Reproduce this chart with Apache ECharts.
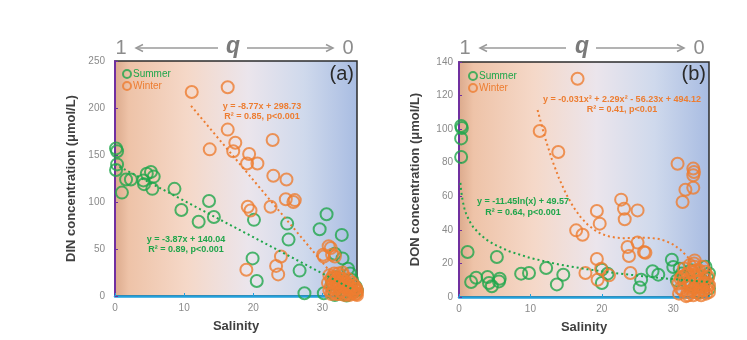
<!DOCTYPE html>
<html><head><meta charset="utf-8">
<script src="https://cdn.jsdelivr.net/npm/echarts@6/dist/echarts.min.js"></script>
<style>html,body{margin:0;padding:0;background:#fff}#c{width:747px;height:340px}</style>
</head><body><div id="c"></div>
<script>
// ---------- Data ----------
const xTicks = [0, 10, 20, 30];
const dinTicks = [0, 50, 100, 150, 200, 250];
const donTicks = [0, 20, 40, 60, 80, 100, 120, 140];

// Panel (a) DIN
const dinSummerSal = [0.15,0.3,0.3,0.15,1,1.6,2.3,4.1,4.2,4.6,5.2,5.6,5.4,8.6,9.6,12.1,13.6,14.3,20.1,19.9,20.5,24.9,25.1,26.7,27.4,29.6,30.6,32.8,31.8,32.9,33.7,34,34.3,30.2,31.8,32.9,34.5,34.8,35,33.5,31.4,32,32.6];
const dinSummerVal = [157,154,140,134,110,124,124,123,119,130,132,127,114,114,91.5,79,101,84,81,40,16,77,60,27,3,71,87,65,45,40,29,24,17,3,1,2,4,10,6,0.5,14,20,3];
const dinWinterSal = [11.1,16.3,13.7,16.3,17.4,17.1,19.4,19.1,20.6,22.8,22.9,24.8,24.7,25.8,26,19.2,19.6,22.5,24,23.3,23.6,19,30.2,31.2,31.8,30.9,30.1,31.4,31,31.3,31.6,31.2,31.8,32.2,32.5,32,32.8,33,33.2,32.6,33.5,33.8,34,34.2,34.5,34.8,33.4,31.5,32.3,33,34.6,35,33.9,32,31,30.8,
  31.4,31.9,32.4,32.9,33.4,33.9,34.4,34.9,31.6,32.1,32.6,33.1,33.6,34.1,34.6,35,33.2,32.4,31.7,32.9,33.7,34.3,31.3,34.9];
const dinWinterVal = [217,222,156,177,163,154,151,141,141,166,128,124,103,100,102,95,91,95,42,32,23,28,42,51,42,53,44,44,22,18,14,10,20,16,12,8,18,14,10,5,8,12,6,3,5,2,3,4,24,22,8,1,1,2,6,14,
  20,17,14,11,9,7,4,3,8,11,19,16,13,9,11,5,1,2,24,25,18,14,2,8];
const dinSummerFitX = [0, 34.5];
const dinSummerFitY = [140.04, 6.5];
const dinWinterFitX = [11, 34];
const dinWinterFitY = [202.3, 0.55];

// Panel (b) DON
const donSummerSal = [0.3,0.4,0.3,0.3,1.2,1.7,2.4,4.0,4.2,4.6,5.3,5.6,5.7,8.7,9.8,12.2,13.7,14.6,20,20,20.8,25.5,25.3,27.1,27.9,29.8,30.9,30.5,30.0,31.5,32,33,34,35,34.5,33.5,35,32.5,34.8,31.2];
const donSummerVal = [101.9,100.7,94.5,83.4,26.8,8.9,11.5,11.9,8.3,6.4,23.8,9.3,10.9,13.9,14.3,17.3,7.5,13.3,16.3,8.3,13.9,10.3,5.6,15.3,13.3,22.2,16.9,9.9,17.9,12,8,6,10,14,18,3,5,16,11,14];
const donWinterSal = [16.6,11.3,13.9,16.4,17.3,19.3,19.7,22.7,23.1,23.2,25,30.6,32.8,32.9,32.8,32.8,31.7,31.3,19.3,19.4,19.9,17.7,23.6,23.8,25,25.9,26.1,24,21,33,31,31.5,32,32,32.5,32.8,33,33,33.2,33.5,33.8,34,34.2,34.5,34.8,35,31.2,30.8,32.3,33.6,34.4,31.8,32.6,33.9,
  30.7,31.3,31.7,32.2,32.7,33.1,33.4,33.7,34.1,34.6,34.9,35,31.5,32.9,33.3,34.3,34.7,32.4,33.8,31,32.1,33.6];
const donWinterVal = [130,98.9,86.4,39.7,37.1,51.2,43.7,58,52.6,46.3,51.6,79.4,76.5,74.5,72.5,65.1,63.9,56.6,22.6,10.3,16.9,14.3,29.8,24.4,32.4,26.8,26.4,14.3,12.9,21.8,5,9,3,14,8,1,12,18,6,2,10,6,4,15,8,3,12,2,19,16,11,0.5,4,1,
  8,4,13,10,15,3,9,13,18,2,12,7,17,20,16,8,5,6,4,11,1,7];
const donSummerFitX = [0.2,0.3,0.5,0.75,1,1.5,2,3,4,5,7,10,14,18,22,26,30,35];
const donSummerFitY = [68.0,63.36,57.51,52.86,49.57,44.93,41.63,36.99,33.70,31.14,27.29,23.21,19.35,16.48,14.18,12.27,10.63,8.86];
const donWinterFitX = [11,12,13,14,15,16,17,18,19,20,21,22,23,24,25,26,27,28,29,30,31,32,33,34,35];
const donWinterFitY = [111.4,95.55,82.03,70.68,61.29,53.70,47.72,43.15,39.81,37.52,36.09,35.33,35.06,35.10,35.24,35.32,35.15,34.53,33.28,31.22,28.16,23.91,18.29,11.12,2.2];

// ---------- Styles ----------
const GREEN = '#1fa64b', ORANGE = '#ed7d31';
const FONT = '"Liberation Sans", Arial, sans-serif';
const zip = (xs, ys) => xs.map((x, i) => [x, ys[i]]);

const bg = new echarts.graphic.LinearGradient(0, 0, 1, 0, [
  {offset: 0, color: '#dba98b'},
  {offset: 0.06, color: '#eec3a8'},
  {offset: 0.3, color: '#f5d8c8'},
  {offset: 0.55, color: '#ebe5ec'},
  {offset: 0.78, color: '#cfd9ec'},
  {offset: 1, color: '#a8bce2'}
]);

function grid(left, right, top, bottom) {
  return {left, right, top, bottom, show: true, backgroundColor: bg, borderColor: '#2b2b2b', borderWidth: 1.5, containLabel: false};
}
function xAx(gi) {
  return {
    gridIndex: gi, type: 'value', min: 0, max: 35, interval: 10,
    name: 'Salinity', nameLocation: 'middle', nameGap: 24,
    nameTextStyle: {fontFamily: FONT, fontWeight: 'bold', fontSize: 13, color: '#404040'},
    axisLine: {show: true, onZero: false, lineStyle: {color: '#22a0dc', width: 2.5}},
    axisTick: {show: true, inside: true, length: 3, lineStyle: {color: '#22a0dc'}},
    axisLabel: {fontFamily: FONT, fontSize: 10, color: '#8a8a8a', margin: 7,
      formatter: v => xTicks.includes(v) ? String(v) : ''},
    splitLine: {show: false}
  };
}
function yAx(gi, max, interval, name, gap, margin, ticks) {
  return {
    gridIndex: gi, type: 'value', min: 0, max, interval,
    name, nameLocation: 'middle', nameGap: gap,
    nameTextStyle: {fontFamily: FONT, fontWeight: 'bold', fontSize: 13, color: '#404040'},
    axisLine: {show: true, onZero: false, lineStyle: {color: '#7030a0', width: 2}},
    axisTick: {show: true, inside: true, length: 3, lineStyle: {color: '#7030a0'}},
    axisLabel: {fontFamily: FONT, fontSize: 10, color: '#8a8a8a', margin,
      formatter: v => ticks.includes(v) ? String(v) : ''},
    splitLine: {show: false}
  };
}
function scatter(name, color, gi, data) {
  return {
    name, type: 'scatter', xAxisIndex: gi, yAxisIndex: gi, data,
    symbol: 'circle', symbolSize: 12,
    itemStyle: {color: 'rgba(0,0,0,0)', borderColor: color, borderWidth: 2},
    emphasis: {disabled: true}, silent: true
  };
}
function fit(color, gi, data) {
  return {
    type: 'line', xAxisIndex: gi, yAxisIndex: gi, data, showSymbol: false, smooth: false,
    lineStyle: {color, width: 2, type: [2, 3]}, silent: true, z: 5
  };
}
function legend(left, top) {
  return {
    left, top, orient: 'vertical', itemWidth: 8, itemHeight: 8, itemGap: 2,
    icon: 'circle', selectedMode: false,
    textStyle: {fontFamily: FONT, fontSize: 10, padding: [0, 0, 0, -3]},
    data: [
      {name: 'Summer', itemStyle: {color: 'rgba(0,0,0,0)', borderColor: GREEN, borderWidth: 2}, textStyle: {color: GREEN}},
      {name: 'Winter', itemStyle: {color: 'rgba(0,0,0,0)', borderColor: ORANGE, borderWidth: 2}, textStyle: {color: ORANGE}}
    ]
  };
}
function qHeader(one, l1, l2, q, r1, r2, zero) {
  const y = 48, g = '#9a9a9a';
  const t = (x, s) => ({type: 'text', x, y, style: {text: s, fill: '#8c8c8c', font: '20px ' + FONT, textAlign: 'center', textVerticalAlign: 'middle'}});
  return [
    t(one, '1'),
    t(zero, '0'),
    {type: 'text', x: q, y: y - 1, style: {text: 'q', fill: '#7a7a7a', font: 'italic bold 23px ' + FONT, textAlign: 'center', textVerticalAlign: 'middle'}},
    {type: 'line', shape: {x1: l1, y1: y, x2: l2, y2: y}, style: {stroke: g, lineWidth: 1.5}},
    {type: 'polyline', shape: {points: [[l1 + 7, y - 3.5], [l1, y], [l1 + 7, y + 3.5]]}, style: {stroke: g, lineWidth: 1.5, fill: null}},
    {type: 'line', shape: {x1: r1, y1: y, x2: r2, y2: y}, style: {stroke: g, lineWidth: 1.5}},
    {type: 'polyline', shape: {points: [[r2 - 7, y - 3.5], [r2, y], [r2 - 7, y + 3.5]]}, style: {stroke: g, lineWidth: 1.5, fill: null}}
  ];
}
function eq(x, y, s, color) {
  return {type: 'text', x, y, z: 10, style: {text: s, fill: color, font: 'bold 9px ' + FONT, textAlign: 'center', textVerticalAlign: 'middle'}};
}
function tag(x, y, s) {
  return {type: 'text', x, y, z: 10, style: {text: s, fill: '#2a2a2a', font: '20px ' + FONT, textAlign: 'right', textVerticalAlign: 'middle'}};
}

const chart = echarts.init(document.getElementById('c'), null, {renderer: 'canvas'});
chart.setOption({
  animation: false,
  backgroundColor: '#fff',
  grid: [grid(115, 390, 61, 44), grid(459, 38, 62, 43)],
  xAxis: [xAx(0), xAx(1)],
  yAxis: [
    yAx(0, 250, 50, 'DIN concentration (μmol/L)', 37, 10, dinTicks),
    yAx(1, 140, 20, 'DON concentration (μmol/L)', 37, 6, donTicks)
  ],
  legend: [legend(117, 64), legend(463, 66)],
  series: [
    scatter('Summer', GREEN, 0, zip(dinSummerSal, dinSummerVal)),
    scatter('Winter', ORANGE, 0, zip(dinWinterSal, dinWinterVal)),
    fit(ORANGE, 0, zip(dinWinterFitX, dinWinterFitY)),
    fit(GREEN, 0, zip(dinSummerFitX, dinSummerFitY)),
    scatter('Summer', GREEN, 1, zip(donSummerSal, donSummerVal)),
    scatter('Winter', ORANGE, 1, zip(donWinterSal, donWinterVal)),
    fit(ORANGE, 1, zip(donWinterFitX, donWinterFitY)),
    fit(GREEN, 1, zip(donSummerFitX, donSummerFitY))
  ],
  graphic: [].concat(
    qHeader(121, 136, 218, 233, 247, 333, 348),
    qHeader(465, 480, 566, 582, 596, 684, 699),
    [
      eq(262, 107, 'y = -8.77x + 298.73', ORANGE),
      eq(262, 117, 'R² = 0.85, p<0.001', ORANGE),
      eq(186, 240, 'y = -3.87x + 140.04', GREEN),
      eq(186, 250, 'R² = 0.89, p<0.001', GREEN),
      eq(622, 100, 'y = -0.031x³ + 2.29x² - 56.23x + 494.12', ORANGE),
      eq(622, 110, 'R² = 0.41, p<0.01', ORANGE),
      eq(523, 202, 'y = -11.45ln(x) + 49.57', GREEN),
      eq(523, 213, 'R² = 0.64, p<0.001', GREEN),
      tag(354, 74, '(a)'),
      tag(706, 74, '(b)')
    ]
  )
});
</script></body></html>
